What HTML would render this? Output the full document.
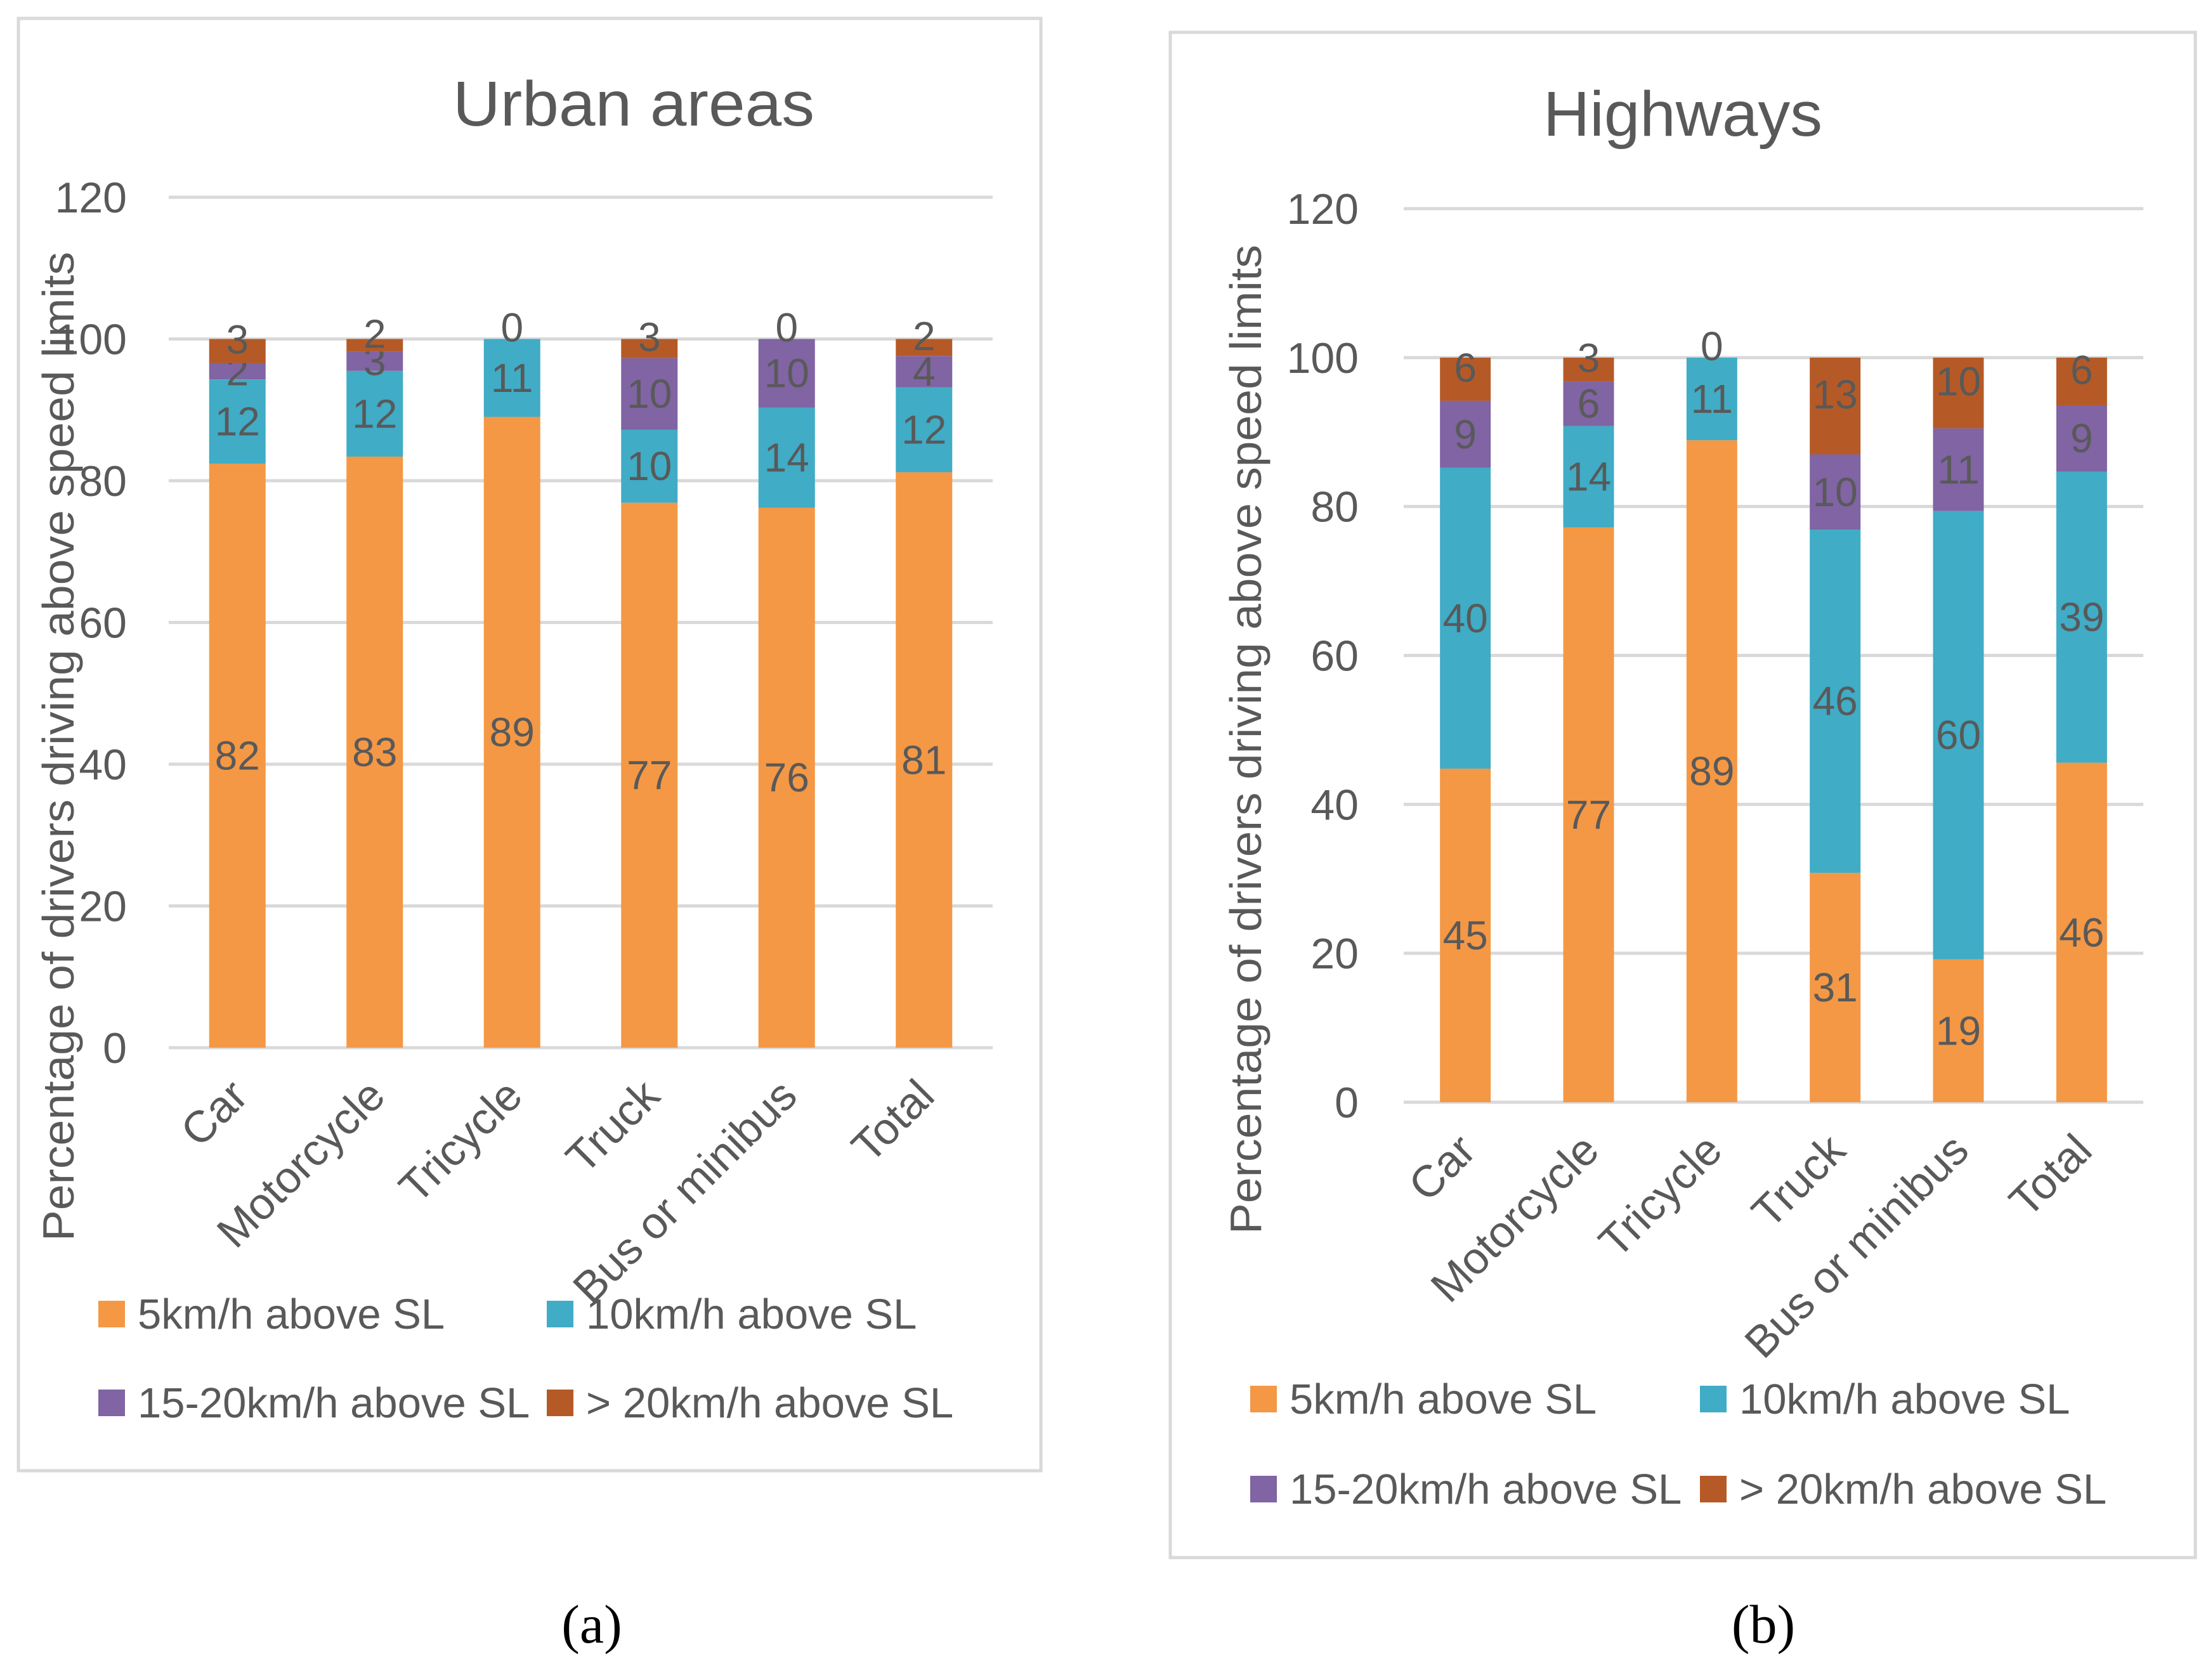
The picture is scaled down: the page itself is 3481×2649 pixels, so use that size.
<!DOCTYPE html>
<html><head><meta charset="utf-8">
<style>
html,body{margin:0;padding:0;background:#fff;}
svg{display:block;font-family:"Liberation Sans",sans-serif;}
</style></head>
<body>
<svg id="root" width="3481" height="2649" viewBox="0 0 3481 2649">
  <rect x="29" y="29" width="1612" height="2290" fill="#fff" stroke="#d9d9d9" stroke-width="5"/>
  <rect x="1845" y="51" width="1616" height="2405" fill="#fff" stroke="#d9d9d9" stroke-width="5"/>
  <text x="999" y="198" text-anchor="middle" font-size="100" textLength="570" lengthAdjust="spacingAndGlyphs" fill="#595959">Urban areas</text>
  <text x="2653" y="214" text-anchor="middle" font-size="100" textLength="440" lengthAdjust="spacingAndGlyphs" fill="#595959">Highways</text>
  <text x="933" y="2590" text-anchor="middle" font-size="86" font-family="Liberation Serif, serif" fill="#000">(a)</text>
  <text x="2780" y="2590" text-anchor="middle" font-size="86" font-family="Liberation Serif, serif" fill="#000">(b)</text>
  <g id="urban"></g>
  <g id="highway"></g>
</svg>
<script>
const categories = ["Car","Motorcycle","Tricycle","Truck","Bus or minibus","Total"];
const seriesNames = ["5km/h above SL","10km/h above SL","15-20km/h above SL","> 20km/h above SL"];
const yTicks = [0,20,40,60,80,100,120];
const urban5 = [82.4,83.4,89,76.9,76.2,81.2];
const urban10 = [11.9,12.1,11,10.3,14.1,12.0];
const urban15 = [2.3,2.7,0,10.1,9.7,4.4];
const urban20 = [3.4,1.8,0,2.7,0,2.4];
const hw5 = [44.8,77.2,88.9,30.8,19.2,45.6];
const hw10 = [40.4,13.6,11.1,46.1,60.2,39.1];
const hw15 = [9.0,6.0,0,10.1,11.1,8.9];
const hw20 = [5.8,3.2,0,13.0,9.5,6.4];

const colors = ["#F49845","#40ACC6","#8064A3","#B55A27"];
const NS = "http://www.w3.org/2000/svg";
function mk(parent, tag, attrs, txt){
  const e = document.createElementNS(NS, tag);
  for (const k in attrs) e.setAttribute(k, attrs[k]);
  if (txt !== undefined) e.textContent = txt;
  parent.appendChild(e);
  return e;
}
function drawChart(gId, prefix, series, L){
  const g = document.getElementById(gId);
  const yScale = v => L.y0 - (v / 120) * (L.y0 - L.y120);
  const step = (L.x1 - L.x0) / categories.length;
  const xCenter = i => L.x0 + step * (i + 0.5);
  yTicks.forEach(t => {
    const ln = mk(g, "line", {x1:L.x0, x2:L.x1, y1:yScale(t), y2:yScale(t), stroke:"#d9d9d9", "stroke-width":5});
    
    
    const tx = mk(g, "text", {x:L.tickX, y:yScale(t)+24, "text-anchor":"end", "font-size":68, fill:"#595959"}, String(t));
    
    
  });
  categories.forEach((c, i) => {
    let acc = 0;
    const cx = xCenter(i);
    series.forEach((s, si) => {
      const v = s[i];
      const yTop = yScale(acc + v), yBot = yScale(acc);
      if (v > 0) {
        const r = mk(g, "rect", {x:cx - L.bw/2, y:yTop, width:L.bw, height:yBot - yTop, fill:colors[si]});
        
        
      }
      if (v > 0 || si === series.length - 1) {
        let ly = (yTop + yBot)/2 + 22;
        if (si === series.length - 1) ly -= 18;
        const lbl = mk(g, "text", {x:cx, y:ly, "text-anchor":"middle", "font-size":64, fill:"#595959"}, String(Math.round(v)));
        
        
      }
      acc += v;
    });
    const ax = cx + 20, ay = L.y0 + 80;
    const xl = mk(g, "text", {x:ax, y:ay, "text-anchor":"end", "font-size":70, fill:"#595959", transform:`rotate(-45 ${ax} ${ay})`}, c);
    
    
  });
  const yt = mk(g, "text", {x:L.titleX, y:L.titleY, "text-anchor":"middle", "font-size":70, fill:"#595959", textLength:1560, lengthAdjust:"spacingAndGlyphs", transform:`rotate(-90 ${L.titleX} ${L.titleY})`}, "Percentage of drivers driving above speed limits");
  
  
  seriesNames.forEach((n, si) => {
    const col = si % 2, row = Math.floor(si / 2);
    const sx = L.legX[col], sy = L.legY[row];
    const sw = mk(g, "rect", {x:sx, y:sy - 22, width:42, height:42, fill:colors[si]});
    
    
    const lt = mk(g, "text", {x:sx + 62, y:sy + 22, "font-size":67, fill:"#595959"}, n);
    
    
  });
}
drawChart("urban", "urban", [urban5, urban10, urban15, urban20],
  {x0:266, x1:1565, y0:1652, y120:311, bw:89, tickX:200, titleX:116, titleY:1177,
   legX:[155, 862], legY:[2073, 2213]});
drawChart("highway", "hw", [hw5, hw10, hw15, hw20],
  {x0:2213, x1:3379, y0:1738, y120:329, bw:80, tickX:2142, titleX:1988, titleY:1166,
   legX:[1971, 2680], legY:[2207, 2349]});
</script>
</body></html>
